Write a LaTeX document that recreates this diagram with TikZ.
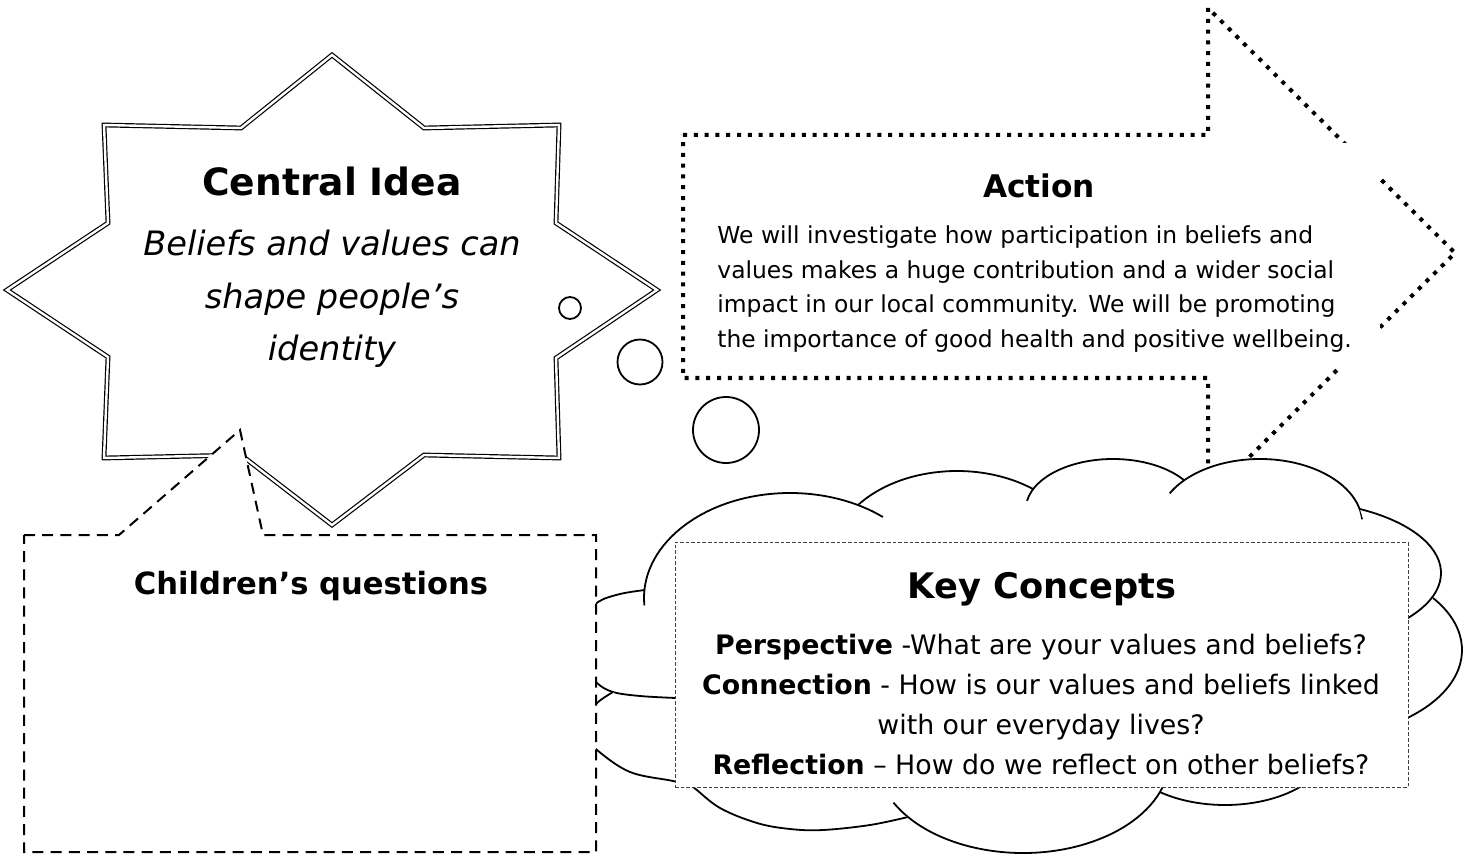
\documentclass[tikz,border=0pt]{standalone}
\usepackage{fontspec}
\setmainfont{DejaVu Sans}
\tikzset{
  starline/.style={draw, fill=white, double, double distance=1.2pt,
                   line width=0.6pt, line join=miter},
  bubble/.style={circle, draw, fill=white, line width=0.9pt, inner sep=0pt},
  dotline/.style={line width=2pt, dash pattern=on 2pt off 3.4pt},
  qline/.style={line width=1pt, dash pattern=on 5.5pt off 3.6pt},
  puff/.style={draw, fill=white, line width=0.9pt},
  keybox/.style={rectangle, draw=black!75, fill=white, line width=0.5pt,
                 dash pattern=on 1.8pt off 1pt, inner sep=0pt,
                 minimum width=366.5pt, minimum height=122.5pt},
  actpanel/.style={rectangle, fill=white, inner sep=0pt,
                   minimum width=341pt, minimum height=112pt},
  txt/.style={inner sep=0pt, align=center},
}

\begin{document}
\begin{tikzpicture}[x=0.5pt, y=-0.5pt]
\useasboundingbox (0,0) rectangle (1471,855);

% action arrow
\draw[dotline] (683,135) -- (1208,135) -- (1208,8) -- (1455,253)
  -- (1208,498) -- (1208,378) -- (683,378) -- cycle;
\node[actpanel] (actpanel) at (1039,255) {};
\node[txt, font=\fontsize{15.6}{19}\selectfont\bfseries] (acttitle) at (1039,186) {Action};
\node[txt, anchor=west, align=left, font=\fontsize{11.7}{17.35}\selectfont] (actbody) at (717,289)
  {We will investigate how participation in beliefs and\\
   values makes a huge contribution and a wider social\\
   impact in our local community. We will be promoting\\
   the importance of good health and positive wellbeing.};

% central idea star
\draw[starline] (332,55) -- (424,128) -- (559,125) -- (556,223) -- (657,290)
  -- (556,358) -- (559,458) -- (424,455) -- (332,525) -- (241,455)
  -- (104,458) -- (108,357) -- (7,290) -- (108,223) -- (104,125)
  -- (241,128) -- cycle;
\node[txt, font=\fontsize{18.8}{23}\selectfont\bfseries] (ctitle) at (332,181) {Central Idea};
\node[txt, font=\fontsize{16.8}{26.2}\selectfont\itshape] (cidea) at (332,299)
  {Beliefs and values can\\shape people’s\\identity};

% thought bubbles
\node[bubble, minimum size=11pt] (b1) at (570,308) {};
\node[bubble, minimum size=22.5pt] (b2) at (640,362) {};
\node[bubble, minimum size=33pt] (b3) at (726,430) {};

% cloud
\fill[white] (645,590) -- (858,505) -- (1033,489) -- (1185,481) -- (1360,509)
  -- (1432,598) -- (1408,717) -- (1300,788) -- (1160,792) -- (908,817)
  -- (693,787) -- (613,692) -- cycle;
\filldraw[puff] plot[smooth, tension=0.6] coordinates {(645,590) (620,594) (598,602) (584,618)
  (579,642) (584,666) (597,683) (613,692) (640,696) (676,698)};
\filldraw[puff] plot[smooth, tension=0.6] coordinates {(613,692) (597,703) (586,718) (586,736)
  (597,750) (630,772) (673,781) (690,786)};
\filldraw[puff] (790,598) ++(176:146 and 105)
  arc[start angle=176, end angle=309.5, x radius=146, y radius=105];
\filldraw[puff] (957,558.7) ++(217.7:125.2 and 87.7)
  arc[start angle=217.7, end angle=307.4, x radius=125.2, y radius=87.7];
\filldraw[puff] (1113,509.6) ++(190:87.3 and 50.6)
  arc[start angle=190, end angle=325.6, x radius=87.3, y radius=50.6];
\filldraw[puff] (1260,523.8) ++(208:102.3 and 64.8)
  arc[start angle=208, end angle=356, x radius=102.3, y radius=64.8];
\filldraw[puff] (1288,573) ++(298:153 and 72.5)
  arc[start angle=298, end angle=404, x radius=153, y radius=72.5];
\filldraw[puff] (1310,650) ++(324:152 and 88.5)
  arc[start angle=324, end angle=417, x radius=152, y radius=88.5];
\filldraw[puff] (1225,745) ++(0:105 and 60)
  arc[start angle=0, end angle=130, x radius=105, y radius=60];
\filldraw[puff] (1023,758) ++(152:146.7 and 95)
  arc[start angle=152, end angle=15, x radius=146.7, y radius=95];
\filldraw[puff] plot[smooth, tension=0.6] coordinates {(680,780) (693,787) (720,808) (757,823)
  (790,829) (823,830) (870,825) (908,817)};

% key concepts
\node[keybox] (keybox) at (1041.5,664.5) {};
\node[txt, font=\fontsize{17.6}{21}\selectfont\bfseries] (keytitle) at (1042,589) {Key Concepts};
\node[txt, font=\fontsize{13.4}{20}\selectfont] (keybody) at (1041,705)
  {\textbf{Perspective} -What are your values and beliefs?\\
   \textbf{Connection} - How is our values and beliefs linked\\
   with our everyday lives?\\
   \textbf{Reflection} – How do we reflect on other beliefs?};

% children's questions
\draw[qline, fill=white] (24,535) -- (119,535) -- (240,430) -- (263,535)
  -- (596,535) -- (596,852) -- (24,852) -- cycle;
\node[txt, font=\fontsize{15.3}{19}\selectfont\bfseries] (qtitle) at (311,586) {Children’s questions};
\end{tikzpicture}
\end{document}
